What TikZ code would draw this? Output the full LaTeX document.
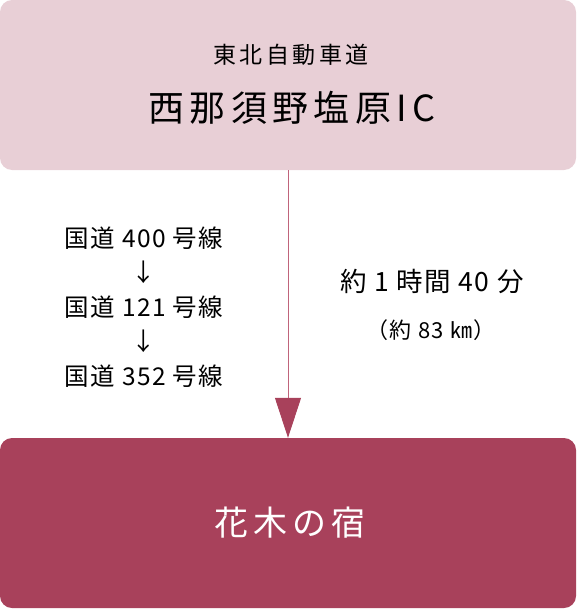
\documentclass[tikz,border=0pt]{standalone}
\usepackage{fontspec}
\setmainfont[LetterSpace=6]{Noto Sans CJK JP}
\newfontfamily\widefont[LetterSpace=15]{Noto Sans CJK JP}
\usetikzlibrary{arrows.meta, positioning}
\definecolor{pinkbg}{HTML}{E8CFD6}
\definecolor{wine}{HTML}{A8415B}
\definecolor{wineline}{HTML}{C0647B}

\begin{document}
\begin{tikzpicture}[x=1pt,y=-1pt,node distance=34.5pt,on grid,
    every node/.style={inner sep=0pt},
    box/.style={rounded corners=12pt,minimum width=576pt,minimum height=170pt},
    route/.style={font=\fontsize{24.5}{24.5}\selectfont},
    >={Triangle[width=26pt,length=40pt,color=wine]}]
  \useasboundingbox (0,0) rectangle (576,610);
  % start and goal
  \node[box,fill=pinkbg] (ic) at (288,85) {};
  \node[font=\widefont\fontsize{23}{23}\selectfont] (road) at (291,55) {東北自動車道};
  \node[font=\widefont\fontsize{36}{36}\selectfont] (icname) at (292,108) {西那須野塩原IC};
  \node[box,fill=wine] (inn) at (288,523) {};
  \node[font=\widefont\fontsize{34}{34}\selectfont,text=white] (innname) at (290,523) {花木の宿};
  \draw[->,wineline,line width=1pt] (ic) -- (inn);
  % route
  \node[route] (r1) at (144,238) {国道 400 号線};
  \node[route] (a1) [below=of r1] {↓};
  \node[route] (r2) [below=of a1] {国道 121 号線};
  \node[route] (a2) [below=of r2] {↓};
  \node[route] (r3) [below=of a2] {国道 352 号線};
  % time
  \node[font=\fontsize{26.5}{26.5}\selectfont] (time) at (432,281) {約 1 時間 40 分};
  \node[font=\fontsize{22}{22}\selectfont] (dist) at (431,330) {（約 83 ㎞）};
\end{tikzpicture}
\end{document}
